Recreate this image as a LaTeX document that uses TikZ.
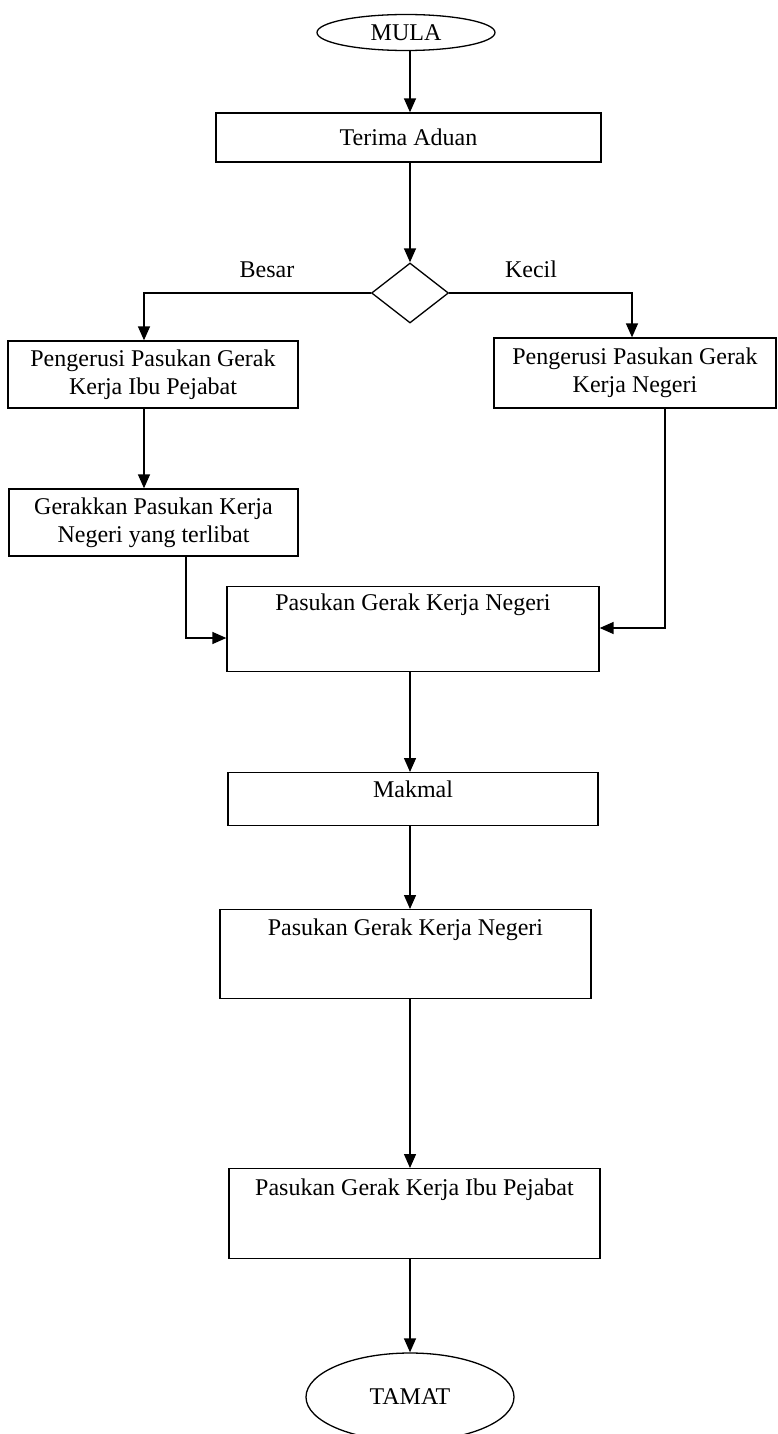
\documentclass[tikz,border=0pt]{standalone}
\usepackage{fontspec}
\setmainfont{Liberation Serif}
\usetikzlibrary{shapes.geometric,arrows.meta}
\begin{document}
\begin{tikzpicture}[x=1pt,y=-1pt,
  every node/.style={font=\fontsize{24}{28}\selectfont},
  box/.style={draw,rectangle,line width=1.3pt,inner sep=0pt,align=center},
  term/.style={draw,ellipse,line width=1.3pt,inner sep=0pt},
  dec/.style={draw,diamond,line width=1.3pt,inner sep=0pt},
  arr/.style={line width=1.4pt,-{Triangle[length=14pt,width=12pt]}},
  lbl/.style={inner sep=0pt}]
\useasboundingbox (0,0) rectangle (777,1434);
\coordinate (spine) at (410,0);
\coordinate (lx) at (144,0);
\coordinate (rx) at (632,0);
\coordinate (gx) at (186,638);
\coordinate (ry) at (665,628);

\node[term, minimum width=178pt, minimum height=36pt] (mula) at (406,32.5) {MULA};
\node[box, minimum width=385pt, minimum height=49pt] (terima) at (408.5,137.5) {Terima Aduan};
\node[dec, minimum width=77pt, minimum height=60pt] (dec) at (410,293) {};
\node[lbl] (besar) at (267,270) {Besar};
\node[lbl] (kecil) at (531,269) {Kecil};
\node[box, minimum width=290pt, minimum height=67pt] (ppgkip) at (153,374.5) {Pengerusi Pasukan Gerak\\Kerja Ibu Pejabat};
\node[box, minimum width=282pt, minimum height=70pt] (ppgkn) at (635,373) {Pengerusi Pasukan Gerak\\Kerja Negeri};
\node[box, minimum width=289pt, minimum height=67pt] (gerak) at (153.5,522.5) {Gerakkan Pasukan Kerja\\Negeri yang terlibat};
\node[box, anchor=north, minimum width=372pt, text height=24pt, text depth=61pt] (pgkn1) at (413,586) {Pasukan Gerak Kerja Negeri};
\node[box, anchor=north, minimum width=370pt, text height=25pt, text depth=28pt] (makmal) at (413,772) {Makmal};
\node[box, anchor=north, minimum width=371pt, text height=26pt, text depth=63pt] (pgkn2) at (405.5,909) {Pasukan Gerak Kerja Negeri};
\node[box, anchor=north, minimum width=371pt, text height=27pt, text depth=63pt] (pgkip) at (414.5,1168) {Pasukan Gerak Kerja Ibu Pejabat};
\node[term, minimum width=208pt, minimum height=88pt] (tamat) at (410,1397) {TAMAT};

\draw[arr] (mula.south -| spine) -- (terima.north -| spine);
\draw[arr] (terima.south -| spine) -- (dec.north);
\draw[arr] (dec.west) -| (lx |- ppgkip.north);
\draw[arr] (dec.east) -| (rx |- ppgkn.north);
\draw[arr] (ppgkip.south -| lx) -- (gerak.north -| lx);
\draw[arr] (gerak.south -| gx) |- (pgkn1.west |- gx);
\draw[arr] (ppgkn.south -| ry) |- (pgkn1.east |- ry);
\draw[arr] (pgkn1.south -| spine) -- (makmal.north -| spine);
\draw[arr] (makmal.south -| spine) -- (pgkn2.north -| spine);
\draw[arr] (pgkn2.south -| spine) -- (pgkip.north -| spine);
\draw[arr] (pgkip.south -| spine) -- (tamat.north);
\end{tikzpicture}
\end{document}
